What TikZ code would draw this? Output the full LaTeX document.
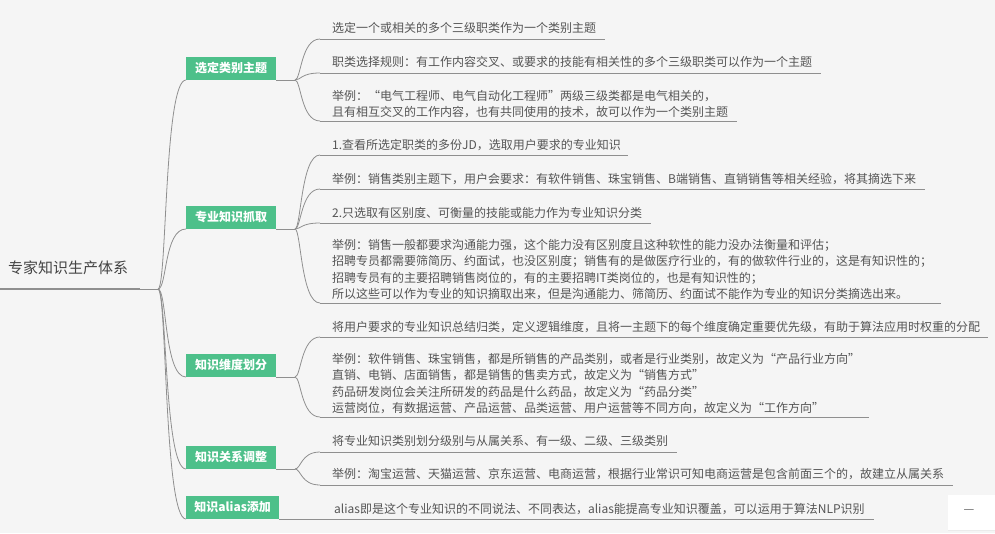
\documentclass[tikz,border=0pt]{standalone}
\usepackage{fontspec}
\setmainfont{Noto Sans CJK SC}
\definecolor{bg}{HTML}{F5F5F5}
\definecolor{ln}{HTML}{8F8F8F}
\definecolor{grn}{HTML}{4DC08A}
\definecolor{txt}{HTML}{555555}
\definecolor{roottxt}{HTML}{444444}
\newcommand\tightlines{\lineskiplimit=-100pt\relax\lineskip=0pt\relax}
\begin{document}
\begin{tikzpicture}[x=1pt,y=-1pt,
  cat/.style={fill=grn, text=white, font=\fontsize{12}{14}\selectfont\bfseries, minimum height=23pt, minimum width=90pt, inner sep=0pt, anchor=south west},
  leaf/.style={anchor=base west, inner sep=0pt, align=left, text=txt, font=\fontsize{12}{16.3}\selectfont\tightlines},
  conn/.style={draw=ln, line width=0.8pt},
  uline/.style={draw=ln, line width=1pt},
  branch/.style={draw=ln, line width=0.8pt}
]
\useasboundingbox (0,0) rectangle (995,533);
\fill[bg] (0,0) rectangle (995,533);

% root
\node[anchor=base west, inner sep=0pt, text=roottxt, font=\fontsize{15}{18}\selectfont] (root) at (8,273.7) {专家知识生产体系};
\coordinate (r0) at (0,289);
\coordinate (r1) at (140,289);
\coordinate (r2) at (158,289);
\draw[draw=ln, line width=2pt] (r0) -- (r1);
\draw[conn] (r1) -- (r2);

% categories
\node[cat] (c1) at (186,80) {选定类别主题};
\node[cat] (c2) at (186,229) {专业知识抓取};
\node[cat] (c3) at (186,377) {知识维度划分};
\node[cat] (c4) at (186,469) {知识关系调整};
\node[cat, minimum width=93pt] (c5) at (186,519) {知识alias添加};

\draw[conn] (r2) .. controls (167,289) and (164,80) .. (c1.south west);
\draw[conn] (r2) .. controls (167,289) and (164,229) .. (c2.south west);
\draw[conn] (r2) .. controls (167,289) and (164,377) .. (c3.south west);
\draw[conn] (r2) .. controls (167,289) and (164,469) .. (c4.south west);
\draw[conn] (r2) .. controls (167,289) and (164,519) .. (c5.south west);

% junctions
\coordinate (j1) at (295,80);
\coordinate (j2) at (295,229);
\coordinate (j3) at (295,377);
\coordinate (j4) at (295,469);
\draw[conn] (c1.south east) -- (j1);
\draw[conn] (c2.south east) -- (j2);
\draw[conn] (c3.south east) -- (j3);
\draw[conn] (c4.south east) -- (j4);

% leaf start/end coordinates
\coordinate (s1a) at (320,39);  \coordinate (e1a) at (605,39);
\coordinate (s1b) at (320,73);  \coordinate (e1b) at (821,73);
\coordinate (s1c) at (320,121); \coordinate (e1c) at (737,121);
\coordinate (s2a) at (320,155); \coordinate (e2a) at (628,155);
\coordinate (s2b) at (320,189); \coordinate (e2b) at (925,189);
\coordinate (s2c) at (320,223); \coordinate (e2c) at (651,223);
\coordinate (s2d) at (320,303); \coordinate (e2d) at (941,303);
\coordinate (s3a) at (320,337); \coordinate (e3a) at (988,337);
\coordinate (s3b) at (320,417); \coordinate (e3b) at (869,417);
\coordinate (s4a) at (320,452); \coordinate (e4a) at (677,452);
\coordinate (s4b) at (320,485); \coordinate (e4b) at (953,485);
\coordinate (e5) at (874,519);

% branch curves
\foreach \j/\s/\yj/\ys in {j1/s1a/80/39, j1/s1b/80/73, j1/s1c/80/121,
                          j2/s2a/229/155, j2/s2b/229/189, j2/s2c/229/223, j2/s2d/229/303,
                          j3/s3a/377/337, j3/s3b/377/417,
                          j4/s4a/469/452, j4/s4b/469/485}{
  \draw[branch] (\j) .. controls (301,\yj) and (301,\ys) .. (\s);
}

% underlines
\foreach \s/\e in {s1a/e1a, s1b/e1b, s1c/e1c, s2a/e2a, s2b/e2b, s2c/e2c, s2d/e2d, s3a/e3a, s3b/e3b, s4a/e4a, s4b/e4b}{
  \draw[uline] (\s) -- (\e);
}
\draw[uline] (c5.south east) -- (e5);

% leaf texts (anchor = baseline of the last line)
\node[leaf] (t1a) at (332,32.5) {选定一个或相关的多个三级职类作为一个类别主题};
\node[leaf] (t1b) at (332,66.5) {职类选择规则：有工作内容交叉、或要求的技能有相关性的多个三级职类可以作为一个主题};
\node[leaf] (t1c) at (332,116.5) {举例：“电气工程师、电气自动化工程师”两级三级类都是电气相关的，\\且有相互交叉的工作内容，也有共同使用的技术，故可以作为一个类别主题};
\node[leaf] (t2a) at (332,149.5) {1.查看所选定职类的多份JD，选取用户要求的专业知识};
\node[leaf] (t2b) at (332,183.5) {举例：销售类别主题下，用户会要求：有软件销售、珠宝销售、B端销售、直销销售等相关经验，将其摘选下来};
\node[leaf] (t2c) at (332,217.5) {2.只选取有区别度、可衡量的技能或能力作为专业知识分类};
\node[leaf] (t2d) at (332,298.5) {举例：销售一般都要求沟通能力强，这个能力没有区别度且这种软性的能力没办法衡量和评估；\\招聘专员都需要筛简历、约面试，也没区别度；销售有的是做医疗行业的，有的做软件行业的，这是有知识性的；\\招聘专员有的主要招聘销售岗位的，有的主要招聘IT类岗位的，也是有知识性的；\\所以这些可以作为专业的知识摘取出来，但是沟通能力、筛简历、约面试不能作为专业的知识分类摘选出来。};
\node[leaf] (t3a) at (332,331.5) {将用户要求的专业知识总结归类，定义逻辑维度，且将一主题下的每个维度确定重要优先级，有助于算法应用时权重的分配};
\node[leaf] (t3b) at (332,412.5) {举例：软件销售、珠宝销售，都是所销售的产品类别，或者是行业类别，故定义为“产品行业方向”\\直销、电销、店面销售，都是销售的售卖方式，故定义为“销售方式”\\药品研发岗位会关注所研发的药品是什么药品，故定义为“药品分类”\\运营岗位，有数据运营、产品运营、品类运营、用户运营等不同方向，故定义为“工作方向”};
\node[leaf] (t4a) at (332,445.5) {将专业知识类别划分级别与从属关系、有一级、二级、三级类别};
\node[leaf] (t4b) at (332,478.5) {举例：淘宝运营、天猫运营、京东运营、电商运营，根据行业常识可知电商运营是包含前面三个的，故建立从属关系};
\node[leaf] (t5) at (334,513.5) {alias即是这个专业知识的不同说法、不同表达，alias能提高专业知识覆盖，可以运用于算法NLP识别};

% corner widget
\fill[white] (948,495) rectangle (995,530);
\draw[draw=black!8, line width=1pt] (948,530) -- (995,530);
\node[inner sep=0pt, text=black!60, font=\fontsize{12}{14}\selectfont] (dash) at (969,512) {—};
\end{tikzpicture}
\end{document}
